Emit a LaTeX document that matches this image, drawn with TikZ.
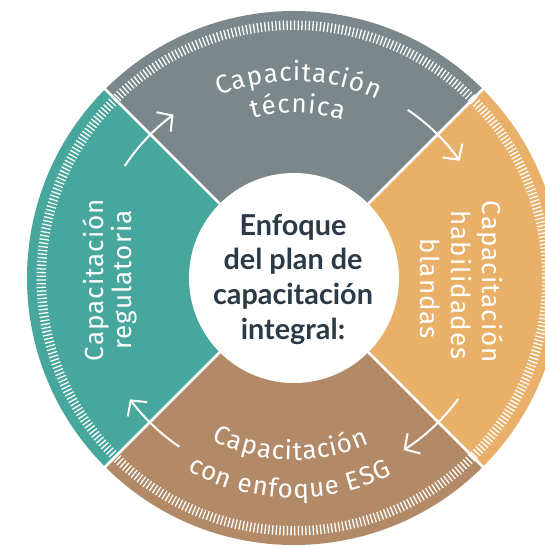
\documentclass[tikz,border=0pt]{standalone}
\usepackage{fontspec}
\usetikzlibrary{arrows.meta,decorations.text}
\newfontfamily\lightf{Fira Sans}[LetterSpace=4]
\newfontfamily\arcf{Fira Sans}
\newfontfamily\cfont{Lato}
\definecolor{segGray}{HTML}{7B878A}
\definecolor{segTeal}{HTML}{47A79D}
\definecolor{segOrange}{HTML}{E9B06A}
\definecolor{segBrown}{HTML}{B38A67}
\definecolor{navy}{HTML}{2B3A46}
\tikzset{
  cyc/.style={white, line width=2pt, -{Straight Barb[length=11pt,width=24pt]}},
  divider/.style={white, line width=2.5pt},
  sidetext/.style={text=white, font=\lightf\fontsize{26}{30}\selectfont, inner sep=0pt, anchor=base},
  centertext/.style={text=navy, font=\cfont\bfseries\fontsize{28.8}{34}\selectfont, inner sep=0pt, anchor=base},
}
\newcommand{\arctxt}{\arcf\fontsize{26}{30}\selectfont\color{white}\kern1pt}
\begin{document}
\begin{tikzpicture}[x=1pt,y=1pt]
\clip (-294,-270) rectangle (251,278);
\coordinate (C) at (0,0);
% segments
\fill[segGray]   (C) -- (45:267)  arc[start angle=45,  end angle=135, radius=267] -- cycle;
\fill[segTeal]   (C) -- (135:267) arc[start angle=135, end angle=225, radius=267] -- cycle;
\fill[segBrown]  (C) -- (225:267) arc[start angle=225, end angle=315, radius=267] -- cycle;
\fill[segOrange] (C) -- (315:267) arc[start angle=315, end angle=405, radius=267] -- cycle;
% tick ring
\draw[white, line width=9.5pt, dash pattern=on 1.3pt off 2.4pt] (C) circle (252.75);
% dividers
\foreach \a in {45,135,225,315} \draw[divider] (C) -- (\a:275);
% inner circle
\node[circle, fill=white, minimum size=210pt, inner sep=0pt] (hub) at (C) {};
% arrows
\draw[cyc] (146.5:203) arc[start angle=146.5, end angle=126.4, radius=203];
\draw[cyc] (55.9:203) arc[start angle=55.9, end angle=35.3, radius=203];
\draw[cyc] (-36.4:204) arc[start angle=-36.4, end angle=-57.5, radius=204];
\draw[cyc] (235.8:204) arc[start angle=235.8, end angle=216.5, radius=204];
% top text
\path[decorate, decoration={text along path, text align=center, text={|\arctxt|Capacitación}}]
  (148.8:197) arc[start angle=148.8, end angle=28.8, radius=197];
\path[decorate, decoration={text along path, text align=center, text={|\arctxt|técnica}}]
  (148.8:165) arc[start angle=148.8, end angle=28.8, radius=165];
% bottom text
\path[decorate, decoration={text along path, text align=center, text={|\arctxt|Capacitación}}]
  (208.6:182) arc[start angle=208.6, end angle=328.6, radius=182];
\path[decorate, decoration={text along path, text align=center, text={|\arctxt|con enfoque ESG}}]
  (208.6:220) arc[start angle=208.6, end angle=328.6, radius=220];
% left text
\node[sidetext, rotate=90] (l1) at (-190,-2) {Capacitación};
\node[sidetext, rotate=90] (l2) at (-162,-2) {regulatoria};
% right text
\node[sidetext, rotate=-90] (r1) at (188,-4) {Capacitación};
\node[sidetext, rotate=-90] (r2) at (157,-7) {habilidades};
\node[sidetext, rotate=-90] (r3) at (126,-11) {blandas};
% center text
\node[centertext] (c1) at (-1,42) {Enfoque};
\node[centertext] (c2) at (-1,8) {del plan de};
\node[centertext] (c3) at (-1,-27) {capacitación};
\node[centertext] (c4) at (-1,-62) {integral:};
\end{tikzpicture}
\end{document}
